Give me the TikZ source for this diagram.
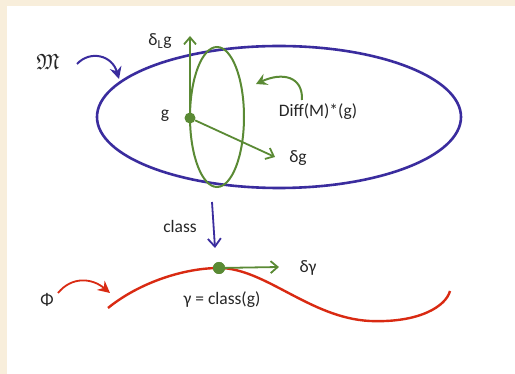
\documentclass[tikz,border=0pt]{standalone}
\usepackage{amssymb}
\usepackage{fontspec}
\setmainfont{Carlito}
\usetikzlibrary{arrows.meta,positioning}
\definecolor{manifold-blue}{HTML}{3A2C9E}
\definecolor{orbit-green}{HTML}{5A8A34}
\definecolor{curve-red}{HTML}{D92A12}
\definecolor{paper}{HTML}{F8EEDB}

\begin{document}
\begin{tikzpicture}[x=1pt, y=-1pt,
  lbl/.style={font=\fontsize{17.5}{20}\selectfont, text=black!85, inner sep=1pt},
  pt/.style={circle, fill=orbit-green, inner sep=0pt, minimum size=11pt},
  garr/.style={-{Straight Barb[length=7pt, width=12pt]}, line width=1.8pt, orbit-green},
  barr/.style={-{Stealth[length=12pt, width=12pt, inset=4pt]}, line width=2pt, manifold-blue},
  rarr/.style={-{Stealth[length=12pt, width=12pt, inset=4pt]}, line width=1.8pt, curve-red}
]
  % card and margins
  \fill[paper] (0,0) rectangle (515,374);
  \fill[white] (7,6) rectangle (515,374);
  \useasboundingbox (0,0) rectangle (515,374);

  % the space M and the orbit through g
  \draw[manifold-blue, line width=2.6pt] (279,117) ellipse [x radius=182, y radius=71];
  \draw[orbit-green, line width=2pt] (217,117) ellipse [x radius=27, y radius=70];

  \node[pt] (g) at (190,118) {};
  \coordinate (dLtip) at (190,36);
  \coordinate (dgtip) at (275,157);
  \draw[garr] (g) -- (dLtip);
  \draw[garr] (g) -- (dgtip);

  \node[lbl] (glbl) at (165,116) {g};
  \node[lbl] (dLlbl) at (160,41) {δ\textsubscript{L}g};
  \node[lbl] (dglbl) at (298,158) {δg};
  \node[lbl] (diff) at (318,112) {Diff(M)*(g)};
  \coordinate (difftip) at (256,84);
  \draw[-{Stealth[length=11pt, width=12pt, inset=4pt]}, line width=2pt, orbit-green]
    (302,100) .. controls (303,76) and (282,72) .. (difftip);

  \node[lbl, font=\fontsize{22}{24}\selectfont] (mlbl) at (48,62) {$\mathfrak{M}$};
  \coordinate (mtip) at (119,79);
  \draw[barr] (77,64) .. controls (90,50) and (112,55) .. (mtip);

  % projection to the curve
  \coordinate (cltail) at (212,202);
  \coordinate (cltip) at (215,248);
  \draw[-{Straight Barb[length=8pt, width=13pt]}, line width=1.8pt, manifold-blue] (cltail) -- (cltip);
  \node[lbl] (cllbl) at (180,226) {class};

  % the curve Phi
  \coordinate (c0) at (108,308);
  \coordinate (c1) at (370,321);
  \coordinate (c2) at (450,291);
  \node[pt, minimum size=12pt] (gamma) at (219,268) {};
  \draw[curve-red, line width=2.4pt] (c0) .. controls (140,282) and (185,268) .. (gamma.center)
    .. controls (265,268) and (310,318) .. (c1) .. controls (420,323) and (446,306) .. (c2);
  \node[pt, minimum size=12pt] at (gamma) {};
  \coordinate (dgammatip) at (279,267);
  \draw[garr] (gamma) -- (dgammatip);
  \node[lbl] (dgammalbl) at (308,268) {δγ};
  \node[lbl] (gammalbl) at (222,300) {γ = class(g)};

  \node[lbl] (philbl) at (47,300) {Φ};
  \coordinate (phitip) at (110,293);
  \draw[rarr] (58,293) .. controls (72,276) and (92,278) .. (phitip);
\end{tikzpicture}
\end{document}
